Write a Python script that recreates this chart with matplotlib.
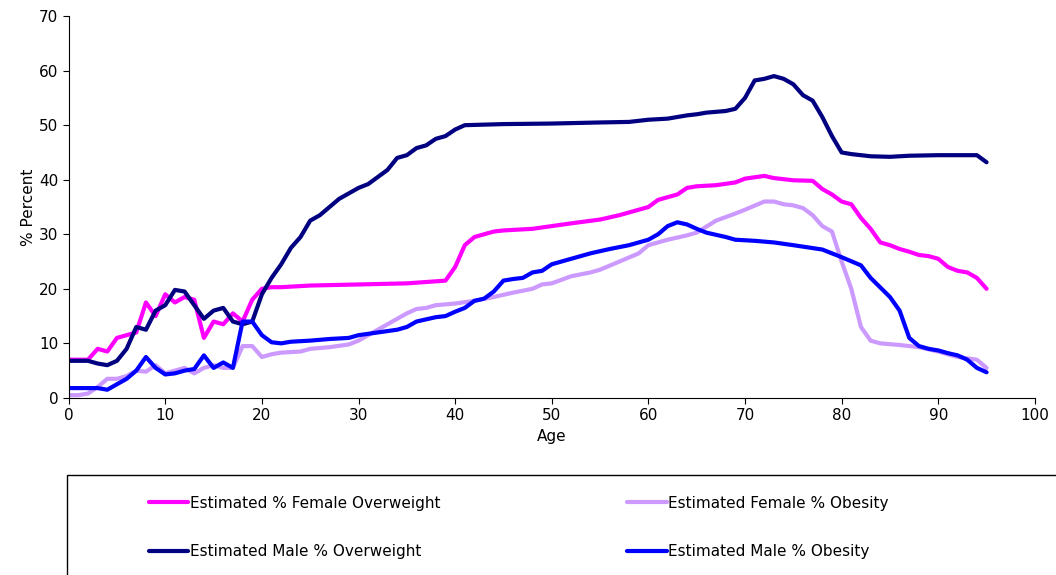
import matplotlib
matplotlib.use("Agg")
import matplotlib.pyplot as plt
from matplotlib.patches import Rectangle

fo_age = [0,1,2,3,4,5,6,7,8,9,10,11,12,13,14,15,16,17,18,19,20,21,22,25,30,35,39,40,41,42,43,44,45,46,48,50,52,55,57,59,60,61,62,63,64,65,67,69,70,72,73,75,77,78,79,80,81,82,83,84,85,86,87,88,89,90,91,92,93,94,95]
fo_val = [7,7,7,9,8.5,11,11.5,12,17.5,15,19,17.5,18.5,18,11,14,13.5,15.5,14,18,20,20.3,20.3,20.6,20.8,21,21.5,24,28,29.5,30,30.5,30.7,30.8,31,31.5,32,32.7,33.5,34.5,35,36.3,36.8,37.3,38.5,38.8,39,39.5,40.2,40.7,40.3,39.9,39.8,38.3,37.3,36,35.5,33,31,28.5,28,27.3,26.8,26.2,26,25.5,24,23.3,23,22,20]

fb_age = [0,1,2,3,4,5,6,7,8,9,10,11,12,13,14,15,16,17,18,19,20,21,22,24,25,27,29,30,31,32,33,34,35,36,37,38,40,42,44,46,48,49,50,52,54,55,57,59,60,62,64,65,67,69,70,72,73,74,75,76,77,78,79,80,81,82,83,84,86,88,90,92,94,95]
fb_val = [0.5,0.5,0.8,2,3.5,3.5,4,5,4.8,6,4.5,5,5.5,4.5,5.5,6,5.5,5.5,9.5,9.5,7.5,8,8.3,8.5,9,9.3,9.8,10.5,11.5,12.5,13.5,14.5,15.5,16.3,16.5,17,17.3,17.8,18.5,19.3,20,20.8,21,22.3,23,23.5,25,26.5,28,29,29.8,30.3,32.5,33.8,34.5,36,36,35.5,35.3,34.8,33.5,31.5,30.5,25,20,13,10.5,10,9.7,9.3,8.5,7.5,7,5.5]

mo_age = [0,1,2,3,4,5,6,7,8,9,10,11,12,13,14,15,16,17,18,19,20,21,22,23,24,25,26,27,28,29,30,31,32,33,34,35,36,37,38,39,40,41,45,50,55,58,60,62,64,65,66,68,69,70,71,72,73,74,75,76,77,78,79,80,81,83,85,87,90,94,95]
mo_val = [6.8,6.8,6.8,6.3,6,6.8,9,13,12.5,16,17,19.8,19.5,17,14.5,16,16.5,14,13.5,14,19,22,24.5,27.5,29.5,32.5,33.5,35,36.5,37.5,38.5,39.2,40.5,41.8,44,44.5,45.8,46.3,47.5,48,49.2,50,50.2,50.3,50.5,50.6,51,51.2,51.8,52,52.3,52.6,53,55,58.2,58.5,59,58.5,57.5,55.5,54.5,51.5,48,45,44.7,44.3,44.2,44.4,44.5,44.5,43.2]

mb_age = [0,3,4,5,6,7,8,9,10,11,12,13,14,15,16,17,18,19,20,21,22,23,25,27,29,30,32,34,35,36,38,39,40,41,42,43,44,45,46,47,48,49,50,52,54,56,58,60,61,62,63,64,65,66,68,69,71,73,75,78,80,82,83,85,86,87,88,89,90,91,92,93,94,95]
mb_val = [1.8,1.8,1.5,2.5,3.5,5,7.5,5.5,4.3,4.5,5,5.3,7.8,5.5,6.5,5.5,14,14,11.5,10.2,10,10.3,10.5,10.8,11,11.5,12,12.5,13,14,14.8,15,15.8,16.5,17.8,18.2,19.5,21.5,21.8,22,23,23.3,24.5,25.5,26.5,27.3,28,29,30,31.5,32.2,31.8,31,30.3,29.5,29,28.8,28.5,28,27.2,25.8,24.3,22,18.5,16,11,9.5,9,8.7,8.2,7.8,7,5.5,4.7]

plt.rcParams['font.family'] = ['DejaVu Sans']
fig = plt.figure(figsize=(10.56, 5.75), dpi=100)
ax = fig.add_axes([0.065, 0.308, 0.915, 0.664])
kw = dict(lw=3, solid_joinstyle='round', solid_capstyle='round')
ax.plot(fo_age, fo_val, color='#FF00FF', label='Estimated % Female Overweight', **kw)
ax.plot(fb_age, fb_val, color='#CC99FF', label='Estimated Female % Obesity', **kw)
ax.plot(mo_age, mo_val, color='#000080', label='Estimated Male % Overweight', **kw)
ax.plot(mb_age, mb_val, color='#0000FF', label='Estimated Male % Obesity', **kw)
ax.set_xlim(0, 100)
ax.set_ylim(0, 70)
ax.set_xticks(range(0, 101, 10))
ax.set_yticks(range(0, 71, 10))
ax.tick_params(labelsize=11, direction='out', length=4)
ax.spines['top'].set_visible(False)
ax.spines['right'].set_visible(False)
ax.set_xlabel('Age', fontsize=11)
ax.set_ylabel('% Percent', fontsize=11, labelpad=2)

fig.patches.append(Rectangle((67/1056, -0.01), 1.0, 0.184, transform=fig.transFigure,
                             fill=False, ec='black', lw=1))
h, l = ax.get_legend_handles_labels()
order = [0, 2, 1, 3]
fig.legend([h[i] for i in order], [l[i] for i in order], ncol=2, frameon=False,
           loc='upper left', bbox_to_anchor=(135/1056, 1-482/575), fontsize=11,
           handlelength=2.6, handletextpad=0.1, labelspacing=2.2, columnspacing=12.2)
fig.savefig('out.png')
